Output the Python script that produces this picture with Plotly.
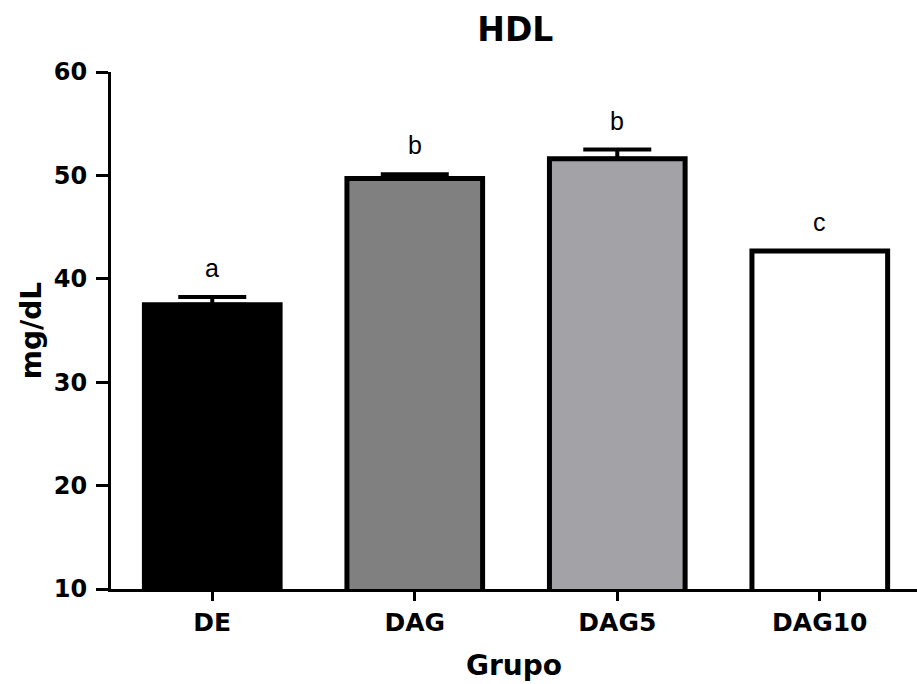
import plotly.graph_objects as go

# HDL by group (mean ± SEM) with significance letters
groups = ["DE", "DAG", "DAG5", "DAG10"]
hdl_mean = [37.5, 49.7, 51.6, 42.7]
hdl_err = [0.75, 0.4, 0.9, 0.0]
sig_letters = ["a", "b", "b", "c"]
bar_colors = ["#000000", "#808080", "#a3a2a7", "#ffffff"]

BOLD_FONT = "DejaVu Sans, Liberation Sans, sans-serif"
LETTER_FONT = "Liberation Sans, Arial, sans-serif"

fig = go.Figure()
fig.add_trace(go.Bar(
    x=groups,
    y=hdl_mean,
    width=0.67,
    marker=dict(color=bar_colors, line=dict(color="black", width=5)),
    error_y=dict(type="data", symmetric=False, array=hdl_err,
                 arrayminus=[0] * len(hdl_err),
                 color="black", thickness=4, width=34),
    showlegend=False,
))

for g, m, e, s in zip(groups, hdl_mean, hdl_err, sig_letters):
    fig.add_annotation(x=g, y=m + e, text=s, showarrow=False,
                       yanchor="bottom", yshift=13,
                       font=dict(family=LETTER_FONT, size=25, color="black"))

fig.update_layout(
    width=917, height=684,
    margin=dict(l=111, r=0, t=72, b=95),
    paper_bgcolor="white", plot_bgcolor="white",
    title=dict(text="HDL", x=0.562, xanchor="center", y=0.957, yanchor="middle",
               font=dict(family=BOLD_FONT, size=33, color="black", weight="bold")),
    font=dict(family=BOLD_FONT, color="black"),
)
fig.update_xaxes(
    range=[-0.5, 3.48], showline=True, linecolor="black", linewidth=3,
    ticks="outside", ticklen=9, tickwidth=3, tickcolor="black",
    tickfont=dict(family=BOLD_FONT, size=25, color="black", weight="bold"),
    title=dict(text="Grupo", font=dict(family=BOLD_FONT, size=28, color="black", weight="bold"),
               standoff=20),
    showgrid=False,
)
fig.update_yaxes(
    range=[10, 60], tickvals=[10, 20, 30, 40, 50, 60],
    showline=True, linecolor="black", linewidth=3,
    ticks="outside", ticklen=12, tickwidth=3, tickcolor="black",
    ticklabelstandoff=4,
    tickfont=dict(family=BOLD_FONT, size=24, color="black", weight="bold"),
    title=dict(text="mg/dL", font=dict(family=BOLD_FONT, size=28, color="black", weight="bold"),
               standoff=4),
    showgrid=False, zeroline=False,
)

fig.write_html("out.html")
